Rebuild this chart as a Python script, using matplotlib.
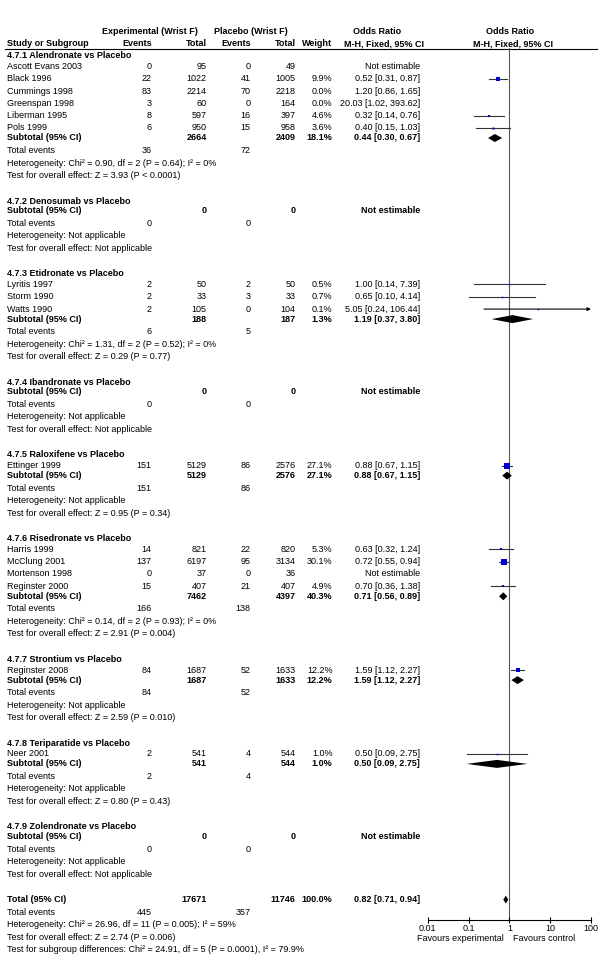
import matplotlib.pyplot as plt
from matplotlib.ticker import FixedLocator, FixedFormatter, NullLocator

plt.rcParams['font.family'] = ['Liberation Sans', 'DejaVu Sans']

# ---- data ----
group_titles = ["4.7.1 Alendronate vs Placebo", "4.7.2 Denosumab vs Placebo",
                "4.7.3 Etidronate vs Placebo", "4.7.4 Ibandronate vs Placebo",
                "4.7.5 Raloxifene vs Placebo", "4.7.6 Risedronate vs Placebo",
                "4.7.7 Strontium vs Placebo", "4.7.8 Teriparatide vs Placebo",
                "4.7.9 Zolendronate vs Placebo"]

study_names = [["Ascott Evans 2003", "Black 1996", "Cummings 1998", "Greenspan 1998",
                "Liberman 1995", "Pols 1999"],
               [],
               ["Lyritis 1997", "Storm 1990", "Watts 1990"],
               [],
               ["Ettinger 1999"],
               ["Harris 1999", "McClung 2001", "Mortenson 1998", "Reginster 2000"],
               ["Reginster 2008"],
               ["Neer 2001"],
               []]
exp_events = [[0, 22, 83, 3, 8, 6], [], [2, 2, 2], [], [151], [14, 137, 0, 15], [84], [2], []]
exp_totals = [[95, 1022, 2214, 60, 597, 950], [], [50, 33, 105], [], [5129],
              [821, 6197, 37, 407], [1687], [541], []]
pla_events = [[0, 41, 70, 0, 16, 15], [], [2, 3, 0], [], [86], [22, 95, 0, 21], [52], [4], []]
pla_totals = [[49, 1005, 2218, 164, 397, 958], [], [50, 33, 104], [], [2576],
              [820, 3134, 36, 407], [1633], [544], []]
weights = [[None, 9.9, 0.0, 0.0, 4.6, 3.6], [], [0.5, 0.7, 0.1], [], [27.1],
           [5.3, 30.1, None, 4.9], [12.2], [1.0], []]
or_est = [[None, 0.52, 1.20, 20.03, 0.32, 0.40], [], [1.00, 0.65, 5.05], [], [0.88],
          [0.63, 0.72, None, 0.70], [1.59], [0.50], []]
or_lo = [[None, 0.31, 0.86, 1.02, 0.14, 0.15], [], [0.14, 0.10, 0.24], [], [0.67],
         [0.32, 0.55, None, 0.36], [1.12], [0.09], []]
or_hi = [[None, 0.87, 1.65, 393.62, 0.76, 1.03], [], [7.39, 4.14, 106.44], [], [1.15],
         [1.24, 0.94, None, 1.38], [2.27], [2.75], []]

sub_exp_total = [2664, 0, 188, 0, 5129, 7462, 1687, 541, 0]
sub_pla_total = [2409, 0, 187, 0, 2576, 4397, 1633, 544, 0]
sub_weight = [18.1, None, 1.3, None, 27.1, 40.3, 12.2, 1.0, None]
sub_or = [0.44, None, 1.19, None, 0.88, 0.71, 1.59, 0.50, None]
sub_lo = [0.30, None, 0.37, None, 0.67, 0.56, 1.12, 0.09, None]
sub_hi = [0.67, None, 3.80, None, 1.15, 0.89, 2.27, 2.75, None]
ev_exp = [36, 0, 6, 0, 151, 166, 84, 2, 0]
ev_pla = [72, 0, 5, 0, 86, 138, 52, 4, 0]
het_text = ["Heterogeneity: Chi² = 0.90, df = 2 (P = 0.64); I² = 0%",
            "Heterogeneity: Not applicable",
            "Heterogeneity: Chi² = 1.31, df = 2 (P = 0.52); I² = 0%",
            "Heterogeneity: Not applicable",
            "Heterogeneity: Not applicable",
            "Heterogeneity: Chi² = 0.14, df = 2 (P = 0.93); I² = 0%",
            "Heterogeneity: Not applicable",
            "Heterogeneity: Not applicable",
            "Heterogeneity: Not applicable"]
z_text = ["Test for overall effect: Z = 3.93 (P < 0.0001)",
          "Test for overall effect: Not applicable",
          "Test for overall effect: Z = 0.29 (P = 0.77)",
          "Test for overall effect: Not applicable",
          "Test for overall effect: Z = 0.95 (P = 0.34)",
          "Test for overall effect: Z = 2.91 (P = 0.004)",
          "Test for overall effect: Z = 2.59 (P = 0.010)",
          "Test for overall effect: Z = 0.80 (P = 0.43)",
          "Test for overall effect: Not applicable"]

total_exp, total_pla = 17671, 11746
total_weight = 100.0
total_or, total_lo, total_hi = 0.82, 0.71, 0.94
total_ev_exp, total_ev_pla = 445, 357
total_het = "Heterogeneity: Chi² = 26.96, df = 11 (P = 0.005); I² = 59%"
total_z = "Test for overall effect: Z = 2.74 (P = 0.006)"
subgroup_test = "Test for subgroup differences: Chi² = 24.91, df = 5 (P = 0.0001), I² = 79.9%"

axis_ticks = [0.01, 0.1, 1, 10, 100]
axis_labels = ["0.01", "0.1", "1", "10", "100"]

# ---- layout (pixels) ----
W, H = 600, 975
FS = 6.5
X_NAME, X_EE, X_ET, X_PE, X_PT, X_W, X_OR = 7, 151.7, 206.7, 250.7, 295.5, 332.5, 420
AX_L, AX_R, AX_TOP, AX_BOT = 427.7, 591, 48, 920
SQ = '#0000cc'
LN = '#333333'

fig = plt.figure(figsize=(W / 100, H / 100), dpi=100)
ax_t = fig.add_axes([0, 0, 1, 1])
ax_t.set_xlim(0, W)
ax_t.set_ylim(H, 0)
ax_t.axis('off')

ax_f = fig.add_axes([AX_L / W, (H - AX_BOT) / H, (AX_R - AX_L) / W, (AX_BOT - AX_TOP) / H])
ax_f.set_xscale('log')
ax_f.set_xlim(0.01, 100)
ax_f.set_ylim(AX_BOT, AX_TOP)
ax_f.patch.set_alpha(0)
for s in ['left', 'right', 'top']:
    ax_f.spines[s].set_visible(False)
ax_f.spines['bottom'].set_linewidth(0.8)
ax_f.xaxis.set_major_locator(FixedLocator(axis_ticks))
ax_f.xaxis.set_major_formatter(FixedFormatter(axis_labels))
ax_f.xaxis.set_minor_locator(NullLocator())
ax_f.tick_params(axis='x', direction='inout', length=4, width=0.8, labelsize=FS, pad=1)
ax_f.set_yticks([])
ax_f.axvline(1, color='#555555', lw=0.8, zorder=1)


def put(x, y, s, ha='left', bold=False):
    ax_t.text(x, y, s, ha=ha, va='center', fontsize=FS,
              fontweight='bold' if bold else 'normal')


def or_str(e, lo, hi):
    return f"{e:.2f} [{lo:.2f}, {hi:.2f}]"


def diamond(e, lo, hi, y):
    ax_f.fill([lo, e, hi, e], [y, y - 4, y, y + 4], color='black', lw=0, zorder=3)


# headers
put(150, 32, "Experimental (Wrist F)", ha='center', bold=True)
put(251, 32, "Placebo (Wrist F)", ha='center', bold=True)
put(377, 32, "Odds Ratio", ha='center', bold=True)
put(510, 32, "Odds Ratio", ha='center', bold=True)
put(X_NAME, 43.5, "Study or Subgroup", bold=True)
put(X_EE, 43.5, "Events", ha='right', bold=True)
put(X_ET, 43.5, "Total", ha='right', bold=True)
put(X_PE, 43.5, "Events", ha='right', bold=True)
put(X_PT, 43.5, "Total", ha='right', bold=True)
put(X_W, 43.5, "Weight", ha='right', bold=True)
put(384, 43.5, "M-H, Fixed, 95% CI", ha='center', bold=True)
put(513, 43.5, "M-H, Fixed, 95% CI", ha='center', bold=True)
ax_t.plot([5, 597], [48.5, 48.5], color='black', lw=0.8)

y = 55.7
for g, title in enumerate(group_titles):
    put(X_NAME, y, title, bold=True)
    names = study_names[g]
    for i, name in enumerate(names):
        y += 10.8 if i == 0 else 12.3
        put(X_NAME, y, name)
        put(X_EE, y, str(exp_events[g][i]), ha='right')
        put(X_ET, y, str(exp_totals[g][i]), ha='right')
        put(X_PE, y, str(pla_events[g][i]), ha='right')
        put(X_PT, y, str(pla_totals[g][i]), ha='right')
        w = weights[g][i]
        if w is None:
            put(X_OR, y, "Not estimable", ha='right')
            continue
        put(X_W, y, f"{w:.1f}%", ha='right')
        e, lo, hi = or_est[g][i], or_lo[g][i], or_hi[g][i]
        put(X_OR, y, or_str(e, lo, hi), ha='right')
        if w > 0:
            if hi > 100:
                ax_f.annotate('', xy=(100, y), xytext=(lo, y),
                              arrowprops=dict(arrowstyle='-|>', color='black', lw=0.8,
                                              mutation_scale=5, shrinkA=0, shrinkB=0),
                              annotation_clip=False)
            else:
                ax_f.plot([lo, hi], [y, y], color=LN, lw=0.8, zorder=2)
            side = max(1.5, 1.05 * w ** 0.5)
            ax_f.plot(e, y, marker='s', ms=side / 1.389, color=SQ, mew=0, zorder=4)
    y += 10 if names else 9.7
    put(X_NAME, y, "Subtotal (95% CI)", bold=True)
    put(X_ET, y, str(sub_exp_total[g]), ha='right', bold=True)
    put(X_PT, y, str(sub_pla_total[g]), ha='right', bold=True)
    if sub_weight[g] is None:
        put(X_OR, y, "Not estimable", ha='right', bold=True)
    else:
        put(X_W, y, f"{sub_weight[g]:.1f}%", ha='right', bold=True)
        put(X_OR, y, or_str(sub_or[g], sub_lo[g], sub_hi[g]), ha='right', bold=True)
        diamond(sub_or[g], sub_lo[g], sub_hi[g], y)
    y += 12.5
    put(X_NAME, y, "Total events")
    put(X_EE, y, str(ev_exp[g]), ha='right')
    put(X_PE, y, str(ev_pla[g]), ha='right')
    y += 12.5
    put(X_NAME, y, het_text[g])
    y += 12.5
    put(X_NAME, y, z_text[g])
    y += 25.5

# overall
put(X_NAME, y, "Total (95% CI)", bold=True)
put(X_ET, y, str(total_exp), ha='right', bold=True)
put(X_PT, y, str(total_pla), ha='right', bold=True)
put(X_W, y, f"{total_weight:.1f}%", ha='right', bold=True)
put(X_OR, y, or_str(total_or, total_lo, total_hi), ha='right', bold=True)
diamond(total_or, total_lo, total_hi, y)
y += 12.5
put(X_NAME, y, "Total events")
put(X_EE, y, str(total_ev_exp), ha='right')
put(X_PE, y, str(total_ev_pla), ha='right')
y += 12.5
put(X_NAME, y, total_het)
y += 12.5
put(X_NAME, y, total_z)
y += 12.5
put(X_NAME, y, subgroup_test)

ax_f.text(0.71, 939, "Favours experimental", ha='right', va='center', fontsize=FS)
ax_f.text(1.25, 939, "Favours control", ha='left', va='center', fontsize=FS)

fig.savefig('out.png', dpi=100)
